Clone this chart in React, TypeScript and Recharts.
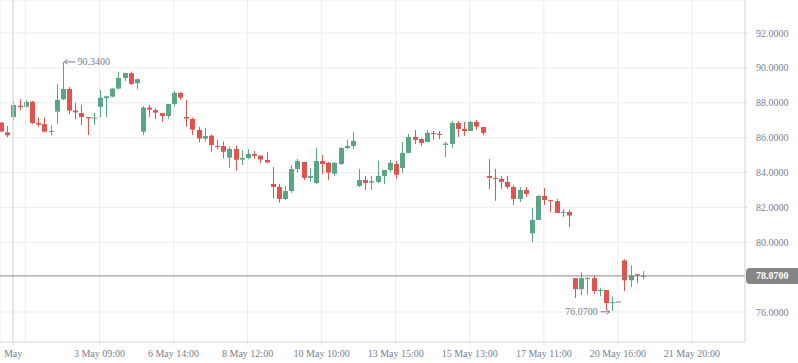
import React from 'react';
import { ComposedChart, Bar, XAxis, YAxis, CartesianGrid, ReferenceLine, ReferenceDot } from 'recharts';

const UP = '#58a683';
const DOWN = '#e2534e';
const FLAT = '#888888';
const GRID = '#ededed';
const TEXT = '#76808f';

// one candle per slot, index 0..104
const opens = [
  86.86, 86.3, 87.18, 87.83, 87.77, 88.06, 86.83, 86.78, 86.32, 87.49,
  88.2, 88.79, 87.55, 87.41, 87.18, 87.09, 87.76, 88.26, 88.35, 88.81,
  89.42, 89.69, 89.12, 86.34, 87.72, 87.58, 87.41, 87.24, 87.93, 88.56,
  87.18, 87.07, 86.44, 85.94, 86.11, 85.52, 85.52, 84.85, 85.35, 84.74,
  84.83, 85.06, 84.97, 84.72, 83.34, 83.17, 82.48, 82.94, 84.2, 84.6,
  83.69, 83.4, 84.66, 84.56, 83.93, 84.49, 85.4, 85.52, 83.23, 83.57,
  83.42, 83.46, 83.8, 84.14, 84.49, 84.26, 85.12, 86.04, 85.92, 85.75,
  86.27, 86.21, 85.58, 85.64, 86.84, 86.5, 86.38, 86.9, 86.61, 83.8,
  83.69, 83.63, 83.46, 83.17, 82.48, 83.0, 80.51, 81.28, 82.65, 82.42,
  82.36, 81.68, 81.74, 77.94, 77.31, 77.9, 77.94, 77.2, 77.26, 76.51,
  76.6, 78.96, 77.82, 78.17, 78.05,
];
const highs = [
  86.9, 86.67, 88.12, 88.2, 88.15, 88.1, 87.15, 87.15, 86.7, 89.06,
  90.34, 88.9, 88.0, 87.87, 87.18, 87.41, 88.73, 88.4, 88.86, 89.78,
  89.71, 89.78, 89.4, 87.81, 87.87, 87.68, 87.41, 87.93, 88.67, 88.63,
  88.16, 87.15, 86.61, 86.57, 86.17, 85.87, 85.77, 85.48, 85.54, 85.27,
  85.33, 85.23, 84.97, 85.17, 84.32, 83.34, 83.23, 84.43, 84.78, 84.6,
  84.26, 85.4, 85.0, 84.6, 84.6, 85.46, 85.87, 86.32, 84.2, 83.8,
  83.8, 84.66, 84.14, 84.72, 84.66, 85.75, 86.21, 86.44, 85.98, 86.44,
  86.38, 86.38, 85.75, 86.95, 86.95, 86.9, 86.95, 87.01, 86.61, 84.78,
  84.2, 83.8, 83.8, 83.28, 83.17, 83.17, 81.96, 82.71, 83.11, 82.42,
  82.48, 81.9, 81.85, 77.94, 78.28, 78.0, 78.11, 77.37, 77.26, 76.9,
  76.6, 79.02, 78.68, 78.17, 78.34,
];
const lows = [
  86.3, 86.02, 87.0, 87.58, 87.72, 86.78, 86.63, 86.31, 86.15, 86.77,
  88.15, 87.36, 87.05, 86.72, 86.15, 86.72, 87.15, 87.18, 88.31, 88.77,
  89.25, 89.02, 88.77, 86.15, 87.18, 87.07, 86.91, 87.09, 87.78, 88.16,
  86.63, 86.15, 85.71, 85.77, 85.19, 85.33, 84.81, 84.28, 84.1, 84.43,
  84.78, 84.78, 84.55, 84.57, 82.52, 82.27, 82.42, 82.83, 83.99, 83.57,
  83.46, 83.34, 83.91, 83.57, 83.8, 84.43, 85.35, 85.35, 83.17, 83.0,
  83.0, 83.38, 83.34, 84.03, 83.63, 83.97, 85.12, 85.63, 85.52, 85.75,
  85.87, 85.92, 84.89, 85.4, 86.04, 86.1, 86.38, 86.44, 86.15, 83.05,
  82.38, 83.05, 83.05, 82.13, 82.3, 82.6, 80.0, 81.28, 82.13, 81.73,
  81.68, 81.45, 80.88, 76.8, 76.97, 77.0, 77.03, 76.9, 76.1, 76.07,
  76.6, 77.2, 77.43, 77.68, 77.88,
];
const closes = [
  86.35, 86.13, 87.87, 87.75, 88.04, 86.84, 86.74, 86.34, 86.38, 88.16,
  88.79, 87.55, 87.45, 87.18, 87.11, 87.15, 88.29, 88.37, 88.81, 89.42,
  89.71, 89.08, 89.35, 87.72, 87.6, 87.43, 87.24, 87.93, 88.56, 88.29,
  87.09, 86.46, 85.94, 86.09, 85.58, 85.46, 85.19, 85.35, 84.73, 84.83,
  85.06, 84.95, 84.74, 84.57, 83.17, 82.48, 82.94, 84.2, 84.66, 83.69,
  83.8, 84.66, 84.49, 83.99, 84.55, 85.4, 85.52, 85.81, 83.57, 83.4,
  83.5, 83.8, 84.14, 84.55, 83.87, 85.12, 86.04, 85.87, 85.69, 86.27,
  86.21, 86.15, 85.66, 86.84, 86.5, 86.38, 86.9, 86.63, 86.27, 83.69,
  83.63, 83.46, 83.17, 82.48, 83.0, 82.77, 81.28, 82.65, 82.42, 82.36,
  81.68, 81.74, 81.53, 77.31, 77.94, 77.94, 77.2, 77.26, 76.51, 76.57,
  76.6, 77.82, 78.11, 78.1, 78.07,
];

const tickIdx = [2, 16, 28, 40, 52, 64, 76, 88, 100, 112];
const tickLabels = ['May', '3 May 09:00', '6 May 14:00', '8 May 12:00', '10 May 10:00', '13 May 15:00', '15 May 13:00', '17 May 11:00', '20 May 16:00', '21 May 20:00'];
const priceTicks = [76, 80, 82, 84, 86, 88, 90, 92];

const lastPrice = 78.07;
const highIdx = 10;
const highVal = 90.34;
const lowIdx = 99;
const lowVal = 76.07;

const data = opens.map((o, i) => ({ i, open: o, high: highs[i], low: lows[i], close: closes[i] }));

const Candle = (props: any) => {
  const { x, y, width, height, payload } = props;
  if (x == null || y == null) return null;
  const { open, close, high, low } = payload;
  const color = close > open ? UP : close < open ? DOWN : FLAT;
  const top = Math.min(y, y + height);
  const h = Math.abs(height);
  const span = high - low;
  const k = span > 0 ? h / span : 0;
  const yOf = (v: number) => top + (high - v) * k;
  const bTop = yOf(Math.max(open, close));
  const bBot = yOf(Math.min(open, close));
  const cx = Math.round(x + width / 2) + 0.5;
  return (
    <g>
      {h > 0 && <line x1={cx} x2={cx} y1={top} y2={top + h} stroke={color} strokeWidth={1} />}
      <rect x={cx - 2.5} y={bTop} width={5} height={Math.max(1, bBot - bTop)} fill={color} />
    </g>
  );
};

const HighMark = (props: any) => {
  const { cx, cy } = props;
  return (
    <g>
      <line x1={cx + 2} x2={cx + 13} y1={cy} y2={cy} stroke={TEXT} strokeWidth={1} />
      <path d={`M${cx + 2},${cy} l3,-2.5 M${cx + 2},${cy} l3,2.5`} stroke={TEXT} fill="none" />
      <text x={cx + 15} y={cy} dy="0.35em" fill={TEXT} fontSize={10} fontFamily="Liberation Serif">{highVal.toFixed(4)}</text>
    </g>
  );
};

const LowMark = (props: any) => {
  const { cx, cy } = props;
  return (
    <g>
      <line x1={cx - 11} x2={cx - 2} y1={cy + 1} y2={cy + 1} stroke={TEXT} strokeWidth={1} />
      <path d={`M${cx - 2},${cy + 1} l-3,-2.5 M${cx - 2},${cy + 1} l-3,2.5`} stroke={TEXT} fill="none" />
      <text x={cx - 14} y={cy + 1} dy="0.35em" textAnchor="end" fill={TEXT} fontSize={10} fontFamily="Liberation Serif">{lowVal.toFixed(4)}</text>
    </g>
  );
};

const PriceTag = (props: any) => {
  const { cx, cy } = props;
  return (
    <g>
      <rect x={cx + 1} y={cy - 8} width={60} height={16} rx={4} fill="#858585" />
      <text x={cx + 11} y={cy} dy="0.35em" fill="#ffffff" fontSize={10} fontWeight="bold" fontFamily="Liberation Serif">{lastPrice.toFixed(4)}</text>
    </g>
  );
};

export default function App() {
  return (
    <div style={{ position: 'absolute', left: 0, top: 0 }}>
      <ComposedChart width={798} height={363} data={data} margin={{ top: 0, right: 0, bottom: 0, left: 0 }}>
        <CartesianGrid stroke={GRID} />
        <ReferenceLine x={4} stroke={GRID} />
        <ReferenceLine x={2} stroke="#dadada" />
        <XAxis
          type="number"
          dataKey="i"
          domain={[-0.12, 120.6]}
          allowDataOverflow
          ticks={tickIdx}
          tickFormatter={(v: number) => tickLabels[tickIdx.indexOf(v)] ?? ''}
          height={21}
          stroke="#dddddd"
          tickSize={3}
          tickMargin={5}
          tick={{ fill: TEXT, fontSize: 10, fontFamily: 'Liberation Serif' }}
          interval={0}
        />
        <YAxis
          orientation="right"
          type="number"
          domain={[74.28, 93.89]}
          allowDataOverflow
          ticks={priceTicks}
          tickFormatter={(v: number) => v.toFixed(4)}
          width={53}
          stroke="#dddddd"
          tickSize={3}
          tickMargin={8}
          tick={{ fill: TEXT, fontSize: 10, fontFamily: 'Liberation Serif', textAnchor: 'start' }}
        />
        <ReferenceLine y={lastPrice} stroke="#888888" />
        <Bar dataKey={(d: any) => [d.low, d.high]} barSize={5} shape={Candle} isAnimationActive={false} />
        <ReferenceDot x={highIdx} y={highVal} r={0} shape={HighMark} />
        <ReferenceDot x={lowIdx} y={lowVal} r={0} shape={LowMark} />
        <ReferenceDot x={120.6} y={lastPrice} r={0} shape={PriceTag} ifOverflow="visible" />
      </ComposedChart>
    </div>
  );
}
